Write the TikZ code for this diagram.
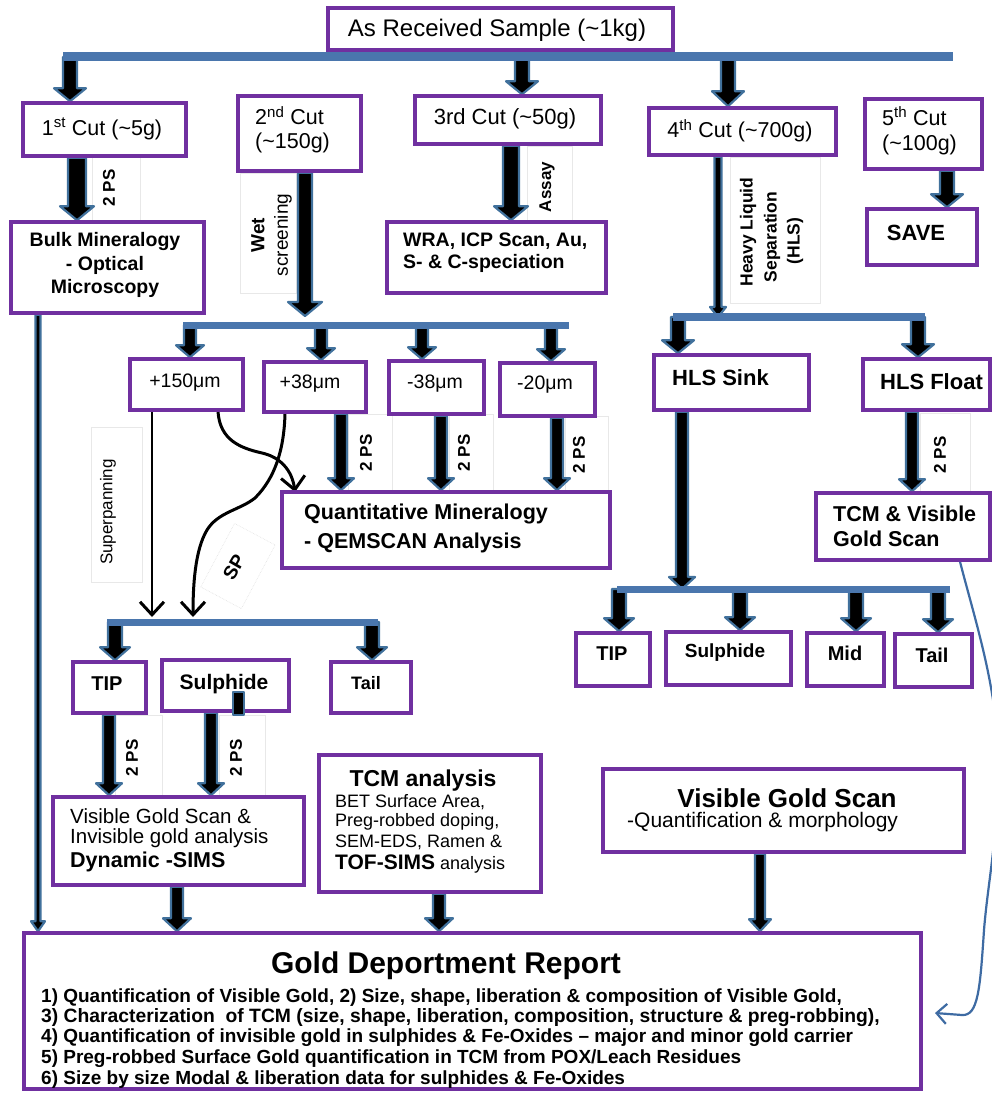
\documentclass[tikz,border=0pt]{standalone}
\usepackage{fontspec}
\setmainfont{Liberation Sans}
\usetikzlibrary{arrows.meta,calc}
\definecolor{boxpurple}{HTML}{7030A0}
\definecolor{arrblue}{HTML}{41719C}
\definecolor{barblue}{HTML}{4A76AD}
\definecolor{curveblue}{HTML}{3E6BA3}
\pgfdeclarelayer{back}\pgfdeclarelayer{lbl}\pgfdeclarelayer{bg}
\pgfsetlayers{back,lbl,bg,main}
\newcommand{\fz}[2]{\fontsize{#1}{#2}\selectfont}
\newcommand{\blk}[6]{%
 \coordinate (blkx) at (#1,0);
 \filldraw[blkst] let \p1=(blkx |- #2), \p2=(blkx |- #3) in
 (\x1-#4pt,\y1) -- (\x1-#4pt,\y2+#6pt) -- (\x1-#5pt,\y2+#6pt) -- (\x1,\y2) -- (\x1+#5pt,\y2+#6pt) -- (\x1+#4pt,\y2+#6pt) -- (\x1+#4pt,\y1) -- cycle;}
\tikzset{
 box/.style={draw=boxpurple, line width=3.5pt, fill=white, inner sep=0pt, rectangle},
 blkst/.style={fill=black, draw=arrblue, line width=2.2pt, line join=round},
 hbar/.style={draw=barblue, line width=#1},
 lbox/.style={draw=black!9, line width=0.6pt},
 t/.style={inner sep=0pt},
 rot/.style={rotate=90, inner sep=0pt},
 thinarr/.style={draw=black, line width=3pt, -{Straight Barb[length=13pt,width=24pt,line width=3pt]}},
}
\begin{document}
\begin{tikzpicture}[x=1pt,y=-1pt]
\useasboundingbox (0,0) rectangle (992,1094);
\begin{pgfonlayer}{back}\fill[white] (0,0) rectangle (992,1094);\end{pgfonlayer}

% ---------- boxes ----------
\node[box, minimum width=345pt, minimum height=42pt] (top) at (500.5,29) {};
\node[box, minimum width=163pt, minimum height=53pt] (cut1) at (104.5,129.5) {};
\node[box, minimum width=123pt, minimum height=75pt] (cut2) at (299.5,133.5) {};
\node[box, minimum width=186pt, minimum height=48pt] (cut3) at (508,120) {};
\node[box, minimum width=187pt, minimum height=47pt] (cut4) at (742.5,131.5) {};
\node[box, minimum width=117pt, minimum height=70pt] (cut5) at (923.5,134) {};
\node[box, minimum width=110pt, minimum height=56pt] (save) at (922,237) {};
\node[box, minimum width=193pt, minimum height=91pt] (bulk) at (107.5,267.5) {};
\node[box, minimum width=219pt, minimum height=71pt] (wra) at (496.5,257.5) {};
\node[box, minimum width=113pt, minimum height=51pt] (p150) at (186.5,384.5) {};
\node[box, minimum width=102pt, minimum height=50pt] (p38) at (315,387) {};
\node[box, minimum width=95pt, minimum height=53pt] (m38) at (436.5,387.5) {};
\node[box, minimum width=95pt, minimum height=53pt] (m20) at (547.5,389.5) {};
\node[box, minimum width=328pt, minimum height=76pt] (qem) at (446,530) {};
\node[box, minimum width=155pt, minimum height=55pt] (sink) at (731.5,382.5) {};
\node[box, minimum width=127pt, minimum height=51pt] (float) at (926.5,384.5) {};
\node[box, minimum width=174pt, minimum height=67pt] (tcmvis) at (903,526.5) {};
\node[box, minimum width=74pt, minimum height=53pt] (rtip) at (613,659.5) {};
\node[box, minimum width=125pt, minimum height=53pt] (rsul) at (728.5,658.5) {};
\node[box, minimum width=77pt, minimum height=53pt] (rmid) at (845.5,659.5) {};
\node[box, minimum width=77pt, minimum height=53pt] (rtail) at (933.5,660.5) {};
\node[box, minimum width=73pt, minimum height=51pt] (ltip) at (109.5,687.5) {};
\node[box, minimum width=127pt, minimum height=51pt] (lsul) at (225.5,685.5) {};
\node[box, minimum width=80pt, minimum height=51pt] (ltail) at (371,687.5) {};
\node[box, minimum width=251pt, minimum height=88pt] (vgs) at (178.5,841) {};
\node[box, minimum width=222pt, minimum height=137pt] (tcm) at (430,823.5) {};
\node[box, minimum width=361pt, minimum height=83pt] (vgsr) at (783.5,810.5) {};
\node[box, minimum width=897pt, minimum height=156pt] (report) at (472.5,1011) {};

% ---------- texts ----------
\node[t, font=\fz{24}{28}] (topt) at (497,30) {As Received Sample (\textasciitilde1kg)};
\node[t, font=\fz{21.5}{25}] (cut1t) at (102,129) {1\textsuperscript{st} Cut (\textasciitilde5g)};
\node[t, font=\fz{21.5}{24}, align=left, anchor=west] (cut2t) at (255,130) {2\textsuperscript{nd} Cut\\(\textasciitilde150g)};
\node[t, font=\fz{22}{25}] (cut3t) at (505,119) {3rd Cut (\textasciitilde50g)};
\node[t, font=\fz{21.5}{25}] (cut4t) at (740,131) {4\textsuperscript{th} Cut (\textasciitilde700g)};
\node[t, font=\fz{21.5}{25}, align=left, anchor=west] (cut5t) at (882,131) {5\textsuperscript{th} Cut\\(\textasciitilde100g)};
\node[t, font=\bfseries\fz{22}{26}] (savet) at (916,233) {SAVE};
\node[t, font=\bfseries\fz{19.5}{23.5}, align=center] (bulkt) at (105,265) {Bulk Mineralogy\\- Optical\\Microscopy};
\node[t, font=\bfseries\fz{19.5}{22}, align=left, anchor=west] (wrat) at (403,253) {WRA, ICP Scan, Au,\\S- \& C-speciation};
\node[t, font=\fz{19.5}{23}] (p150t) at (185,383) {+150μm};
\node[t, font=\fz{19.5}{23}] (p38t) at (310,384) {+38μm};
\node[t, font=\fz{19.5}{23}] (m38t) at (435,384) {-38μm};
\node[t, font=\fz{19.5}{23}] (m20t) at (545,385) {-20μm};
\node[t, font=\bfseries\fz{21.5}{29}, align=left, anchor=west] (qemt) at (304,528) {Quantitative Mineralogy\\- QEMSCAN Analysis};
\node[t, font=\bfseries\fz{22}{26}, anchor=west] (sinkt) at (672,378) {HLS Sink};
\node[t, font=\bfseries\fz{22}{26}, anchor=west] (floatt) at (880,382) {HLS Float};
\node[t, font=\bfseries\fz{21.5}{25}, align=left, anchor=west] (tcmvist) at (833,526) {TCM \& Visible\\Gold Scan};
\node[t, font=\bfseries\fz{20}{24}] (rtipt) at (612,654) {TIP};
\node[t, font=\bfseries\fz{19}{23}] (rsult) at (725,653) {Sulphide};
\node[t, font=\bfseries\fz{20}{24}] (rmidt) at (845,653) {Mid};
\node[t, font=\bfseries\fz{20}{24}] (rtailt) at (932,655) {Tail};
\node[t, font=\bfseries\fz{20}{24}] (ltipt) at (107,684) {TIP};
\node[t, font=\bfseries\fz{21}{25}] (lsult) at (224,684) {Sulphide};
\node[t, font=\bfseries\fz{18}{22}] (ltailt) at (366,683) {Tail};
\node[t, font=\fz{20.5}{23}, anchor=west] (vgs1) at (70,816) {Visible Gold Scan \&};
\node[t, font=\fz{20.5}{23}, anchor=west] (vgs2) at (70,838) {Invisible gold analysis};
\node[t, font=\bfseries\fz{21.5}{24}, anchor=west] (vgs3) at (70,862) {Dynamic -SIMS};
\node[t, font=\bfseries\fz{23}{27}] (tcm0) at (423,781) {TCM analysis};
\node[t, font=\fz{18}{21}, anchor=west] (tcm1) at (335,802) {BET Surface Area,};
\node[t, font=\fz{18}{21}, anchor=west] (tcm2) at (335,822) {Preg-robbed doping,};
\node[t, font=\fz{18}{21}, anchor=west] (tcm3) at (335,842) {SEM-EDS, Ramen \&};
\node[t, font=\fz{18}{21}, anchor=west] (tcm4) at (335,864) {{\bfseries\fz{21}{25}TOF-SIMS} analysis};
\node[t, font=\bfseries\fz{26}{29}] (vgsr0) at (787,798) {Visible Gold Scan};
\node[t, font=\fz{21}{24}, anchor=west] (vgsr1) at (627,822) {-Quantification \& morphology};
\node[t, font=\bfseries\fz{30}{34}] (rep0) at (446,966) {Gold Deportment Report};
\node[t, font=\bfseries\fz{19}{21}, anchor=west] (rep1) at (41,998) {1) Quantification of Visible Gold, 2) Size, shape, liberation \& composition of Visible Gold,};
\node[t, font=\bfseries\fz{19.3}{21}, anchor=west] (rep2) at (41,1018) {3) Characterization\ \ of TCM (size, shape, liberation, composition, structure \& preg-robbing),};
\node[t, font=\bfseries\fz{19}{21}, anchor=west] (rep3) at (41,1038) {4) Quantification of invisible gold in sulphides \& Fe-Oxides – major and minor gold carrier};
\node[t, font=\bfseries\fz{19}{21}, anchor=west] (rep4) at (41,1059) {5) Preg-robbed Surface Gold quantification in TCM from POX/Leach Residues};
\node[t, font=\bfseries\fz{19}{21}, anchor=west] (rep5) at (41,1080) {6) Size by size Modal \& liberation data for sulphides \& Fe-Oxides};

% ---------- rotated labels ----------
\node[rot, font=\bfseries\fz{17}{20}] (ps1) at (109,188) {2 PS};
\node[rot, font=\bfseries\fz{19}{22}] (wet1) at (258,235) {Wet};
\node[rot, font=\fz{19}{22}] (wet2) at (283,235) {screening};
\node[rot, font=\bfseries\fz{17}{20}] (assay) at (547,187) {Assay};
\node[rot, font=\bfseries\fz{17.5}{20}] (hls1) at (748,232) {Heavy Liquid};
\node[rot, font=\bfseries\fz{17.5}{20}] (hls2) at (772,237) {Separation};
\node[rot, font=\bfseries\fz{17.5}{20}] (hls3) at (795,241) {(HLS)};
\node[rot, font=\bfseries\fz{17}{20}] (ps2) at (366,453) {2 PS};
\node[rot, font=\bfseries\fz{17}{20}] (ps3) at (464,453) {2 PS};
\node[rot, font=\bfseries\fz{17}{20}] (ps4) at (579,455) {2 PS};
\node[rot, font=\bfseries\fz{17}{20}] (ps5) at (940,455) {2 PS};
\node[rot, font=\bfseries\fz{17}{20}] (ps6) at (132,758) {2 PS};
\node[rot, font=\bfseries\fz{17}{20}] (ps7) at (236,758) {2 PS};
\node[rot, font=\fz{17}{20}] (sup) at (108,512) {Superpanning};
\node[rotate=60, inner sep=0pt, font=\bfseries\fz{19}{22}] (spl) at (234,567) {SP};

% small stub on the Sulphide box
\filldraw[blkst] (233,692) rectangle (244,715);

% ---------- faint label boxes ----------
\begin{pgfonlayer}{lbl}
\draw[lbox] (92,157) rectangle (140,220);
\draw[lbox] (240,173) rectangle (296,293);
\draw[lbox] (527,146) rectangle (572,222);
\draw[lbox] (730,157) rectangle (820,303);
\draw[lbox] (348,414) rectangle (392,490);
\draw[lbox] (449,414) rectangle (493,490);
\draw[lbox] (565,416) rectangle (608,490);
\draw[lbox] (920,413) rectangle (970,492);
\draw[lbox] (91,427) rectangle (142,582);
\draw[lbox] (115,715) rectangle (162,795);
\draw[lbox] (219,715) rectangle (265,795);
\draw[black!12, densely dotted, line width=0.6pt, rotate around={62:(238,566)}] (202,543) rectangle (274,589);
\end{pgfonlayer}

% ---------- connectors ----------
\begin{pgfonlayer}{bg}
\coordinate (mbL) at (63,57); \coordinate (mbR) at (953,57);
\coordinate (b2L) at (183,325); \coordinate (b2R) at (569,325);
\coordinate (b3L) at (673,317); \coordinate (b3R) at (925,317);
\coordinate (b4L) at (617,589); \coordinate (b4R) at (950,589);
\coordinate (b5L) at (107,622); \coordinate (b5R) at (378,622);
\coordinate (wsend) at (305,316);
\coordinate (suptip) at (152,617);
\coordinate (sptip) at (193,617);
\coordinate (qtip) at (295,492);
\coordinate (rctip) at (935,1013);

\blk{70}{mbL}{cut1.north}{7}{16}{13}
\blk{522}{mbL}{cut3.north}{7}{16}{13}
\blk{728}{mbL}{cut4.north}{7}{16}{15}
\blk{77}{cut1.south}{bulk.north}{9}{17}{14}
\blk{305}{cut2.south}{wsend}{7}{17}{14}
\blk{511}{cut3.south}{wra.north}{8}{17}{14}
\blk{718}{cut4.south}{b3L}{3.5}{8}{10}
\blk{947}{cut5.south}{save.north}{7}{16}{13}
\blk{190}{b2L}{p150.north}{6}{14}{12}
\blk{321}{b2L}{p38.north}{6}{14}{12}
\blk{422}{b2L}{m38.north}{6}{14}{12}
\blk{551}{b2L}{m20.north}{6}{14}{12}
\blk{341}{p38.south}{qem.north}{6}{13}{12}
\blk{441}{m38.south}{qem.north}{6}{13}{12}
\blk{557}{m20.south}{qem.north}{6}{13}{12}
\blk{678}{b3L}{sink.north}{7}{16}{13}
\blk{918}{b3L}{float.north}{7}{16}{13}
\blk{912}{float.south}{tcmvis.north}{6}{13}{12}
\blk{682}{sink.south}{b4L}{6}{13}{12}
\blk{619}{b4L}{rtip.north}{7}{15}{13}
\blk{740}{b4L}{rsul.north}{7}{15}{13}
\blk{856}{b4L}{rmid.north}{7}{15}{13}
\blk{938}{b4L}{rtail.north}{7}{15}{13}
\blk{115}{b5L}{ltip.north}{7}{15}{13}
\blk{372}{b5L}{ltail.north}{7}{15}{13}
\blk{109}{ltip.south}{vgs.north}{6}{13}{12}
\blk{211}{lsul.south}{vgs.north}{6}{13}{12}
\blk{177}{vgs.south}{report.north}{6}{14}{13}
\blk{439}{tcm.south}{report.north}{6}{14}{13}
\blk{760}{vgsr.south}{report.north}{5}{11}{12}
\blk{38}{bulk.south}{report.north}{2.5}{7}{10}

\draw[hbar=9pt] (mbL) -- (mbR);
\draw[hbar=7pt] (b2L) -- (b2R);
\draw[hbar=8pt] (b3L) -- (b3R);
\draw[hbar=7pt] (b4L) -- (b4R);
\draw[hbar=7pt] (b5L) -- (b5R);

\coordinate (supx) at (152,0);
\draw[thinarr, line width=2.5pt] (supx |- p150.south) -- (suptip);
\coordinate (c1x) at (218,0);
\draw[thinarr] (c1x |- p150.south) .. controls (220,440) and (240,448) .. (262,453) .. controls (280,457) and (292,470) .. (qtip);
\coordinate (c2x) at (285,0);
\draw[thinarr] (c2x |- p38.south) .. controls (284,450) and (275,478) .. (255,498) .. controls (240,510) and (218,512) .. (207,530) .. controls (195,550) and (193,585) .. (sptip);
\coordinate (rcx) at (960,0);
\draw[curveblue, line width=2.2pt, -{Straight Barb[length=10pt,width=20pt,line width=2.2pt]}] (rcx |- tcmvis.south) .. controls (975,620) and (998,690) .. (998,760) .. controls (998,840) and (988,880) .. (984,930) .. controls (980,990) and (978,1016) .. (962,1015) -- (rctip);
\end{pgfonlayer}
\end{tikzpicture}
\end{document}
